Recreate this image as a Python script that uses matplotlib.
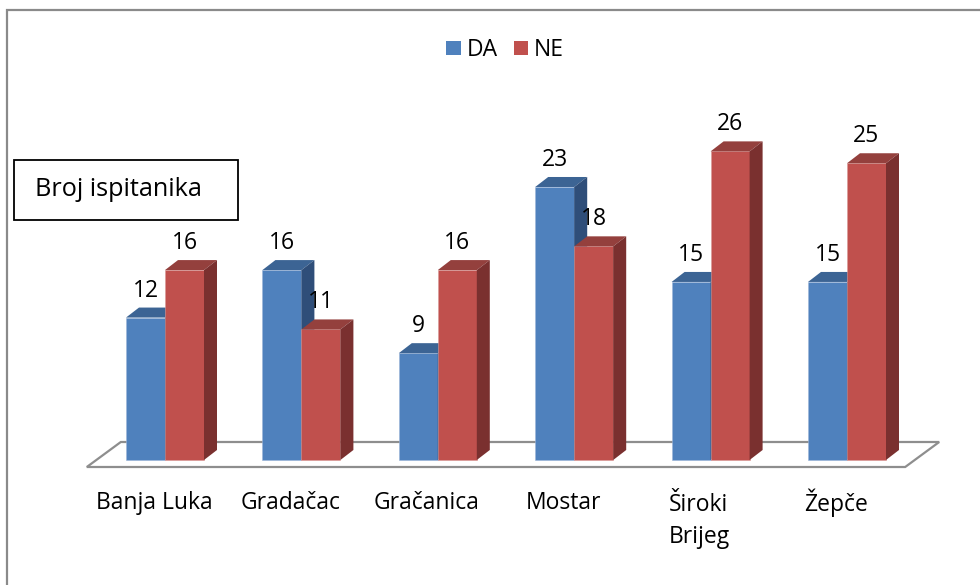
import matplotlib
matplotlib.use("Agg")
import matplotlib.pyplot as plt
from matplotlib.patches import Polygon, Rectangle, Patch
import numpy as np

categories = ["Banja Luka", "Gradačac", "Gračanica", "Mostar", "Široki\nBrijeg", "Žepče"]
da_values = [12, 16, 9, 23, 15, 15]
ne_values = [16, 11, 16, 18, 26, 25]
series_names = ["DA", "NE"]
axis_title = "Broj ispitanika"

plt.rcParams['font.family'] = ['Open Sans', 'DejaVu Sans']
FS = 16.5

W, H = 980, 585
fig = plt.figure(figsize=(W / 100, H / 100), dpi=100)
fig.patch.set_facecolor("white")

# axes geometry in pixels
ax_left, ax_bottom, ax_w, ax_h = 96.8, 125, 818.4, 356.1
ax = fig.add_axes([ax_left / W, ax_bottom / H, ax_w / W, ax_h / H])
ax.set_xlim(-0.5, len(categories) - 0.5)
ax.set_ylim(0, 30)
ax.axis("off")

ux = (len(categories)) / ax_w   # data units per pixel (x)
uy = 30 / ax_h                  # data units per pixel (y)

colors = {
    "DA": ("#4F81BD", "#3C6494", "#2F4E79"),
    "NE": ("#C0504D", "#94403D", "#7A302F"),
}
x = np.arange(len(categories))
bw = 39 * ux
dx, dy = 13 * ux, 10 * uy

# floor
xmin, xmax = ax.get_xlim()
floor = Polygon([(xmin - 10 * ux, -7 * uy), (xmax - 10 * ux, -7 * uy),
                 (xmax + 24 * ux, 18 * uy), (xmin + 24 * ux, 18 * uy)],
                closed=True, facecolor="white", edgecolor="#8E8E8E",
                linewidth=1.6, clip_on=False, zorder=1)
ax.add_patch(floor)

z = 2
for i in range(len(categories)):
    for name, vals, off in (("DA", da_values, -bw), ("NE", ne_values, 0.0)):
        front, top, side = colors[name]
        x0 = x[i] + off
        x1 = x0 + bw
        h = vals[i]
        ax.bar(x0, h, bw, align="edge", color=front, edgecolor="#9DB5D8" if name == "DA" else "#D99A98",
               linewidth=0.4, zorder=z, clip_on=False)
        ax.add_patch(Polygon([(x0, h), (x1, h), (x1 + dx, h + dy), (x0 + dx, h + dy)],
                             closed=True, facecolor=top, edgecolor="none", zorder=z + 0.1, clip_on=False))
        ax.add_patch(Polygon([(x1, 0), (x1 + dx, dy), (x1 + dx, h + dy), (x1, h)],
                             closed=True, facecolor=side, edgecolor="none", zorder=z + 0.1, clip_on=False))
        ax.annotate(str(h), (x0 + bw / 2, h), xytext=(0, 27), textcoords="offset pixels",
                    ha="center", va="center", fontsize=FS, color="black", zorder=20,
                    annotation_clip=False)
        z += 1

for i, cat in enumerate(categories):
    multi = "\n" in cat
    ax.annotate(cat, (x[i], 0), xytext=(-11, -33 if multi else -43), textcoords="offset pixels",
                ha="center", va="top" if multi else "center", multialignment="left",
                fontsize=FS, linespacing=1.45, annotation_clip=False)

# legend
handles = [Patch(facecolor=colors[n][0], edgecolor="none") for n in series_names]
fig.legend(handles, series_names, loc="center", bbox_to_anchor=(505 / W, 1 - 50 / H),
           ncol=2, frameon=False, fontsize=FS, handlelength=0.62, handleheight=0.62,
           handletextpad=0.25, columnspacing=0.7)

# axis title box
fig.patches.append(Rectangle((14 / W, 1 - 220 / H), 224 / W, 60 / H, transform=fig.transFigure,
                             facecolor="white", edgecolor="black", linewidth=1.3))
fig.text(35 / W, 1 - 190 / H, axis_title, ha="left", va="center", fontsize=18.2)

# outer chart border
fig.patches.append(Rectangle((7 / W, -10 / H), 990 / W, (H - 10 + 10) / H, transform=fig.transFigure,
                             facecolor="none", edgecolor="#8A8A8A", linewidth=1.6, clip_on=False))

fig.savefig("out.png", dpi=100)
